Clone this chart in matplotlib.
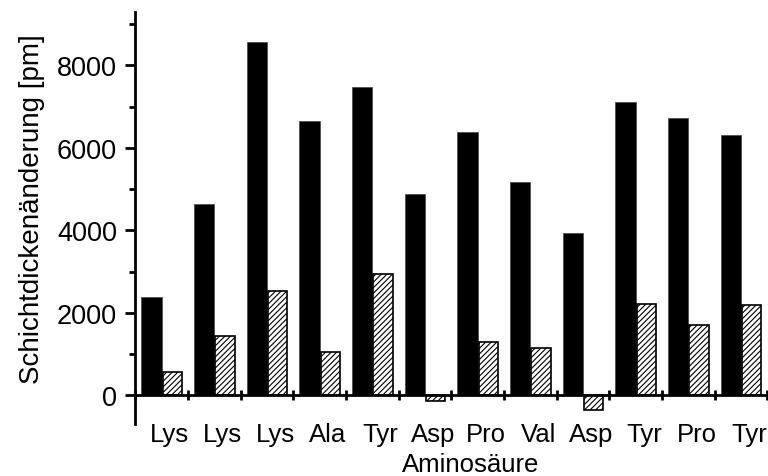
import numpy as np
import matplotlib
matplotlib.use("Agg")
import matplotlib.pyplot as plt
from matplotlib.ticker import MultipleLocator, FixedLocator, NullFormatter

plt.rcParams['font.family'] = ['Liberation Sans', 'DejaVu Sans']
plt.rcParams['hatch.linewidth'] = 0.8

aminosaeuren = ['Lys', 'Lys', 'Lys', 'Ala', 'Tyr', 'Asp', 'Pro', 'Val', 'Asp', 'Tyr', 'Pro', 'Tyr']
werte_schwarz = [2390, 4640, 8580, 6650, 7480, 4870, 6380, 5170, 3930, 7110, 6730, 6320]
werte_schraffiert = [560, 1440, 2530, 1040, 2930, -130, 1280, 1150, -350, 2200, 1700, 2180]

fig = plt.figure(figsize=(7.68, 4.77), dpi=100)
ax = fig.add_axes([0.176, 0.109, 0.823, 0.864])

x = np.arange(len(aminosaeuren))
ax.bar(x + 0.115, werte_schwarz, width=0.39, align='edge', color='black', edgecolor='#444444', linewidth=0.5)
ax.bar(x + 0.52, werte_schraffiert, width=0.37, align='edge', color='white', edgecolor='black',
       hatch='//////', linewidth=1.2)

ax.set_xlim(0, len(aminosaeuren))
ax.set_ylim(-700, 9300)

for s in ['top', 'right']:
    ax.spines[s].set_visible(False)
ax.spines['bottom'].set_position(('data', 0))
ax.spines['bottom'].set_linewidth(2)
ax.spines['left'].set_linewidth(2)

# y-Achse
ax.yaxis.set_major_locator(MultipleLocator(2000))
ax.yaxis.set_minor_locator(MultipleLocator(1000))
ax.tick_params(axis='y', which='major', length=7, width=2, pad=6, labelsize=19.5)
ax.tick_params(axis='y', which='minor', length=4, width=2)

# x-Achse: Striche an Gruppengrenzen, Beschriftung leicht versetzt
ax.xaxis.set_major_locator(FixedLocator(np.arange(len(aminosaeuren) + 1)))
ax.xaxis.set_major_formatter(NullFormatter())
ax.xaxis.set_minor_locator(FixedLocator(x + 0.66))
ax.set_xticklabels(aminosaeuren, minor=True)
ax.tick_params(axis='x', which='major', direction='inout', length=7.5, width=2)
ax.tick_params(axis='x', which='minor', length=0, pad=19, labelsize=18.5)

ax.set_xlabel('Aminosäure', fontsize=18.5)
ax.xaxis.set_label_coords(0.53, -0.068)
ax.set_ylabel('Schichtdickenänderung [pm]', fontsize=20)
ax.yaxis.set_label_coords(-0.142, 0.525)

fig.savefig('out.png', dpi=100)
